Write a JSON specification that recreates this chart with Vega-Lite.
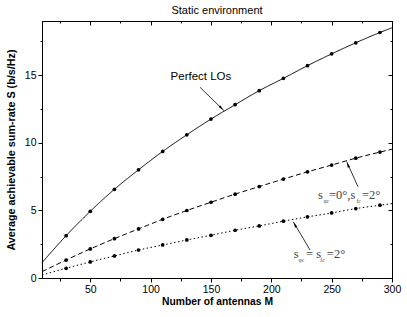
{
  "$schema": "https://vega.github.io/schema/vega-lite/v6.json",
  "width": 350,
  "height": 257,
  "autosize": {"type": "none"},
  "padding": {"left": 42, "top": 21, "right": 15, "bottom": 39},
  "background": "white",
  "config": {
    "font": "Liberation Sans",
    "view": {"stroke": "black", "strokeWidth": 1},
    "axis": {"grid": false, "domainColor": "black", "tickColor": "black", "labelColor": "black", "titleColor": "black", "labelFont": "Liberation Sans", "titleFont": "Liberation Sans", "labelFontSize": 10.5, "titleFontWeight": "bold", "domainWidth": 1, "tickWidth": 1}
  },
  "title": {"text": "Static environment", "fontSize": 11, "fontWeight": "normal", "font": "Liberation Sans", "color": "black", "offset": 5},
  "datasets": {
    "curves": [
      {"series": "Perfect LOs", "M": 10, "S": 1.13},
      {"series": "Perfect LOs", "M": 30, "S": 3.13},
      {"series": "Perfect LOs", "M": 50, "S": 4.93},
      {"series": "Perfect LOs", "M": 70, "S": 6.56},
      {"series": "Perfect LOs", "M": 90, "S": 8.0},
      {"series": "Perfect LOs", "M": 110, "S": 9.36},
      {"series": "Perfect LOs", "M": 130, "S": 10.59},
      {"series": "Perfect LOs", "M": 150, "S": 11.75},
      {"series": "Perfect LOs", "M": 170, "S": 12.81},
      {"series": "Perfect LOs", "M": 190, "S": 13.85},
      {"series": "Perfect LOs", "M": 210, "S": 14.76},
      {"series": "Perfect LOs", "M": 230, "S": 15.70},
      {"series": "Perfect LOs", "M": 250, "S": 16.57},
      {"series": "Perfect LOs", "M": 270, "S": 17.39},
      {"series": "Perfect LOs", "M": 290, "S": 18.15},
      {"series": "Perfect LOs", "M": 300, "S": 18.5},
      {"series": "phi0_fc2", "M": 10, "S": 0.47},
      {"series": "phi0_fc2", "M": 30, "S": 1.33},
      {"series": "phi0_fc2", "M": 50, "S": 2.15},
      {"series": "phi0_fc2", "M": 70, "S": 2.91},
      {"series": "phi0_fc2", "M": 90, "S": 3.63},
      {"series": "phi0_fc2", "M": 110, "S": 4.34},
      {"series": "phi0_fc2", "M": 130, "S": 4.99},
      {"series": "phi0_fc2", "M": 150, "S": 5.6},
      {"series": "phi0_fc2", "M": 170, "S": 6.2},
      {"series": "phi0_fc2", "M": 190, "S": 6.76},
      {"series": "phi0_fc2", "M": 210, "S": 7.31},
      {"series": "phi0_fc2", "M": 230, "S": 7.85},
      {"series": "phi0_fc2", "M": 250, "S": 8.35},
      {"series": "phi0_fc2", "M": 270, "S": 8.86},
      {"series": "phi0_fc2", "M": 290, "S": 9.31},
      {"series": "phi0_fc2", "M": 300, "S": 9.52},
      {"series": "phi2_fc2", "M": 10, "S": 0.22},
      {"series": "phi2_fc2", "M": 30, "S": 0.72},
      {"series": "phi2_fc2", "M": 50, "S": 1.19},
      {"series": "phi2_fc2", "M": 70, "S": 1.63},
      {"series": "phi2_fc2", "M": 90, "S": 2.07},
      {"series": "phi2_fc2", "M": 110, "S": 2.44},
      {"series": "phi2_fc2", "M": 130, "S": 2.81},
      {"series": "phi2_fc2", "M": 150, "S": 3.16},
      {"series": "phi2_fc2", "M": 170, "S": 3.53},
      {"series": "phi2_fc2", "M": 190, "S": 3.85},
      {"series": "phi2_fc2", "M": 210, "S": 4.2},
      {"series": "phi2_fc2", "M": 230, "S": 4.52},
      {"series": "phi2_fc2", "M": 250, "S": 4.81},
      {"series": "phi2_fc2", "M": 270, "S": 5.13},
      {"series": "phi2_fc2", "M": 290, "S": 5.38},
      {"series": "phi2_fc2", "M": 300, "S": 5.5}
    ],
    "arrows": [
      {"x": 140.9, "y": 14.10, "x2": 160.8, "y2": 12.37, "hx": 158.6, "hy": 12.56, "angle": 134},
      {"x": 271.8, "y": 6.75, "x2": 262.5, "y2": 8.60, "hx": 263.4, "hy": 8.38, "angle": 336},
      {"x": 232.1, "y": 2.07, "x2": 218.2, "y2": 4.16, "hx": 219.5, "hy": 3.94, "angle": 330}
    ],
    "sans": [
      {"x": 141.7, "y": 14.86, "text": "Perfect LOs"}
    ],
    "serif": [
      {"x": 238.7, "y": 5.84, "text": "s"},
      {"x": 247.8, "y": 5.84, "text": "=0°,s"},
      {"x": 275.1, "y": 5.84, "text": "=2°"},
      {"x": 218.5, "y": 1.48, "text": "s"},
      {"x": 228.8, "y": 1.48, "text": "= s"},
      {"x": 246.0, "y": 1.48, "text": "=2°"}
    ],
    "subs": [
      {"x": 243.2, "y": 5.54, "text": "φc"},
      {"x": 270.6, "y": 5.54, "text": "fc"},
      {"x": 222.6, "y": 1.18, "text": "φc"},
      {"x": 240.6, "y": 1.18, "text": "fc"}
    ]
  },
  "layer": [
    {
      "data": {"name": "curves"},
      "mark": {"type": "line", "interpolate": "monotone", "color": "black", "strokeWidth": 1},
      "encoding": {
        "x": {"field": "M", "type": "quantitative", "scale": {"domain": [10, 300], "nice": false, "zero": false},
          "axis": {"orient": "bottom", "title": "Number of antennas M", "titleFontSize": 10.3, "values": [25, 50, 75, 100, 125, 150, 175, 200, 225, 250, 275, 300],
            "labelExpr": "datum.value % 50 === 0 ? datum.label : ''",
            "tickSize": {"condition": {"test": "datum.value % 50 === 0", "value": 4}, "value": 3}, "labelPadding": 2, "titlePadding": 2, "labelFlush": false}},
        "y": {"field": "S", "type": "quantitative", "scale": {"domain": [0, 19], "nice": false},
          "axis": {"orient": "left", "title": "Average achievable sum-rate S (b/s/Hz)", "titleFontSize": 10.8, "values": [0, 2.5, 5, 7.5, 10, 12.5, 15, 17.5],
            "labelExpr": "datum.value % 5 === 0 ? datum.label : ''",
            "tickSize": {"condition": {"test": "datum.value % 5 === 0", "value": 4}, "value": 2}, "labelPadding": 2, "titlePadding": 8, "labelFlush": false}},
        "detail": {"field": "series"},
        "strokeDash": {"field": "series", "type": "nominal", "legend": null,
          "scale": {"domain": ["Perfect LOs", "phi0_fc2", "phi2_fc2"], "range": [[1, 0], [5, 3], [1.5, 2.5]]}}
      }
    },
    {
      "data": {"name": "curves"},
      "transform": [{"filter": "datum.M >= 30 && datum.M <= 290"}],
      "mark": {"type": "point", "filled": true, "color": "black", "size": 14, "opacity": 1},
      "encoding": {
        "x": {"field": "M", "type": "quantitative", "axis": null},
        "y": {"field": "S", "type": "quantitative", "axis": null}
      }
    },
    {
      "data": {"name": "arrows"},
      "mark": {"type": "rule", "color": "black", "strokeWidth": 0.8},
      "encoding": {
        "x": {"field": "x", "type": "quantitative", "axis": null},
        "y": {"field": "y", "type": "quantitative", "axis": null},
        "x2": {"field": "x2"},
        "y2": {"field": "y2"}
      }
    },
    {
      "data": {"name": "arrows"},
      "mark": {"type": "point", "shape": "M0,-1L0.45,1L-0.45,1Z", "filled": true, "color": "black", "size": 30, "opacity": 1},
      "encoding": {
        "x": {"field": "hx", "type": "quantitative", "axis": null},
        "y": {"field": "hy", "type": "quantitative", "axis": null},
        "angle": {"field": "angle", "type": "quantitative", "scale": null}
      }
    },
    {
      "data": {"name": "sans"},
      "mark": {"type": "text", "font": "Liberation Sans", "fontSize": 11.5, "color": "black", "align": "center", "baseline": "middle"},
      "encoding": {
        "x": {"field": "x", "type": "quantitative", "axis": null},
        "y": {"field": "y", "type": "quantitative", "axis": null},
        "text": {"field": "text"}
      }
    },
    {
      "data": {"name": "serif"},
      "mark": {"type": "text", "font": "Liberation Serif", "fontSize": 12.5, "color": "#444444", "align": "left", "baseline": "alphabetic"},
      "encoding": {
        "x": {"field": "x", "type": "quantitative", "axis": null},
        "y": {"field": "y", "type": "quantitative", "axis": null},
        "text": {"field": "text"}
      }
    },
    {
      "data": {"name": "subs"},
      "mark": {"type": "text", "font": "Liberation Serif", "fontSize": 5.5, "color": "#444444", "align": "left", "baseline": "alphabetic"},
      "encoding": {
        "x": {"field": "x", "type": "quantitative", "axis": null},
        "y": {"field": "y", "type": "quantitative", "axis": null},
        "text": {"field": "text"}
      }
    },
    {
      "data": {"name": "curves"},
      "mark": {"type": "point", "opacity": 0},
      "encoding": {
        "x": {"field": "M", "type": "quantitative",
          "axis": {"orient": "top", "title": null, "labels": false, "values": [25, 50, 75, 100, 125, 150, 175, 200, 225, 250, 275, 300],
            "tickSize": {"condition": {"test": "datum.value % 50 === 0", "value": -4}, "value": -2}}},
        "y": {"field": "S", "type": "quantitative",
          "axis": {"orient": "right", "title": null, "labels": false, "values": [0, 2.5, 5, 7.5, 10, 12.5, 15, 17.5],
            "tickSize": {"condition": {"test": "datum.value % 5 === 0", "value": -4}, "value": -2}}}
      }
    }
  ],
  "resolve": {"axis": {"x": "independent", "y": "independent"}}
}
